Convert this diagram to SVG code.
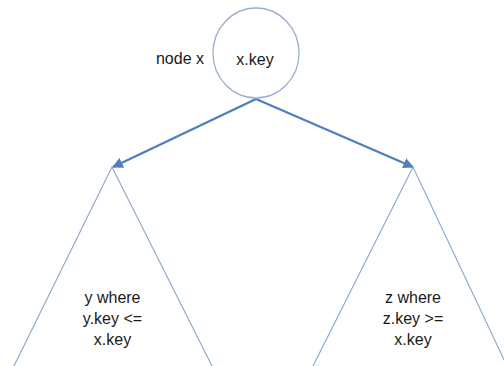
<svg xmlns="http://www.w3.org/2000/svg" width="504" height="366" viewBox="0 0 504 366">
<style>
.lbl{font-family:"Liberation Sans",Arial,sans-serif;font-size:16px;fill:#1a1a1a;text-anchor:middle}
.tri{fill:none;stroke:#8eabd3;stroke-width:1.2}
.edge{stroke:#4f7fbd;stroke-width:2.4;fill:none}
</style>
<defs>
<marker id="ah" viewBox="0 0 10 10" refX="9" refY="5" markerWidth="4.5" markerHeight="4.5" orient="auto" markerUnits="strokeWidth">
<path d="M0,0 L10,5 L0,10 z" fill="#4f7fbd"/>
</marker>
</defs>
<rect width="504" height="366" fill="#fff"/>
<g id="connectors">
<line class="edge" x1="256" y1="99" x2="113" y2="167" marker-end="url(#ah)"/>
<line class="edge" x1="256" y1="99" x2="413" y2="167" marker-end="url(#ah)"/>
</g>
<g id="nodeX">
<ellipse cx="256" cy="53" rx="43" ry="45" fill="#fff" stroke="#9bb0cc" stroke-width="1.3"/>
<text class="lbl" x="255" y="65">x.key</text>
<text class="lbl" x="180" y="64">node x</text>
</g>
<g id="leftSubtree">
<polyline class="tri" points="13,368 112,167 213,368"/>
<text class="lbl" x="112.5" y="303">y where</text>
<text class="lbl" x="112.5" y="324">y.key &lt;=</text>
<text class="lbl" x="112.5" y="345">x.key</text>
</g>
<g id="rightSubtree">
<polyline class="tri" points="312,368 413,167 508,368"/>
<text class="lbl" x="413" y="303">z where</text>
<text class="lbl" x="413" y="324">z.key &gt;=</text>
<text class="lbl" x="413" y="345">x.key</text>
</g>
</svg>
